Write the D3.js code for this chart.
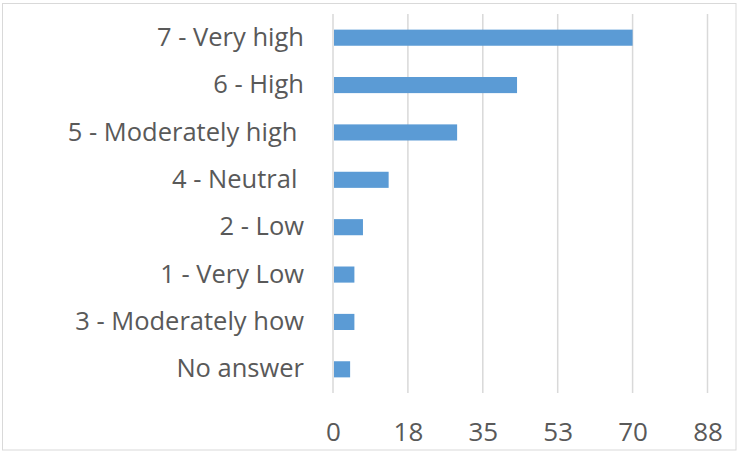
<!DOCTYPE html>
<html>
<head>
<meta charset="utf-8">
<script src="https://cdn.jsdelivr.net/npm/d3@7"></script>
<style>
  body { margin: 0; background: #fff; }
  svg { display: block; font-family: "Open Sans", sans-serif; }
</style>
</head>
<body>
<div id="chart"></div>
<script>
// Categories top to bottom (trailing spaces as in the source labels)
const categories = ['7 - Very high', '6 - High', '5 - Moderately high ', '4 - Neutral ',
  '2 - Low', '1 - Very Low', '3 - Moderately how', 'No answer'];
const counts = [70, 43, 29, 13, 7, 5, 5, 4];
const tickValues = [0, 17.5, 35, 52.5, 70, 87.5];
const tickLabels = ['0', '18', '35', '53', '70', '88'];

const width = 739, height = 452;
const plot = { left: 333, right: 707.5, top: 14, bottom: 393 };

const svg = d3.select('#chart').append('svg')
  .attr('width', width)
  .attr('height', height);

// chart border
svg.append('rect')
  .attr('x', 2.5).attr('y', 3.5)
  .attr('width', 733.5).attr('height', 446.5)
  .attr('fill', 'none')
  .attr('stroke', '#d9d9d9')
  .attr('stroke-width', 1);

const x = d3.scaleLinear()
  .domain([0, 87.5])
  .range([plot.left, plot.right]);

const y = d3.scaleBand()
  .domain(categories)
  .range([plot.top, plot.bottom])
  .paddingInner(0.66)
  .paddingOuter(0.33);

// vertical gridlines
svg.append('g')
  .selectAll('line')
  .data(tickValues)
  .enter().append('line')
    .attr('x1', d => x(d)).attr('x2', d => x(d))
    .attr('y1', plot.top).attr('y2', plot.bottom)
    .attr('stroke', '#d9d9d9')
    .attr('stroke-width', 1.5);

// bars
svg.append('g')
  .selectAll('rect')
  .data(categories)
  .enter().append('rect')
    .attr('x', x(0) + 1)
    .attr('y', d => y(d))
    .attr('width', (d, i) => x(counts[i]) - x(0) - 1)
    .attr('height', y.bandwidth())
    .attr('fill', '#5b9bd5');

// x axis labels
const xAxis = svg.append('g')
  .attr('transform', `translate(0, ${plot.bottom})`)
  .call(d3.axisBottom(x)
    .tickValues(tickValues)
    .tickFormat((d, i) => tickLabels[i])
    .tickSize(0)
    .tickPadding(30));
xAxis.select('.domain').remove();
xAxis.selectAll('text')
  .style('font-family', '"Open Sans", sans-serif')
  .style('font-size', '26px')
  .attr('fill', '#595959');

// category labels
const yAxis = svg.append('g')
  .attr('transform', `translate(${plot.left}, 0)`)
  .call(d3.axisLeft(y).tickSize(0).tickPadding(29));
yAxis.select('.domain').remove();
yAxis.selectAll('text')
  .style('font-family', '"Open Sans", sans-serif')
  .style('font-size', '25.5px')
  .style('white-space', 'pre')
  .attr('fill', '#595959');
</script>
</body>
</html>
